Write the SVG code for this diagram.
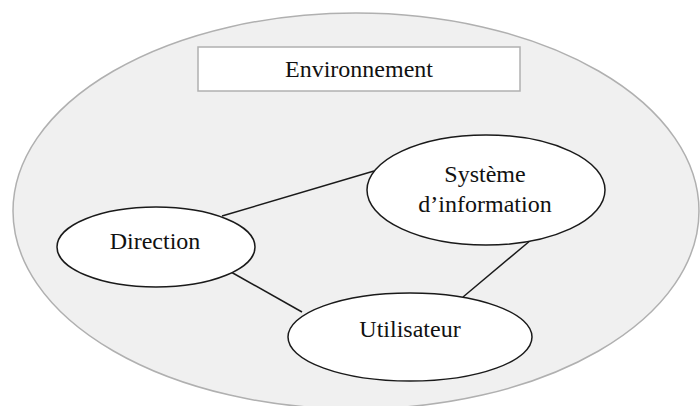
<svg xmlns="http://www.w3.org/2000/svg" width="700" height="406" viewBox="0 0 700 406">
<style>
.node{fill:#fff;stroke:#1a1a1a;stroke-width:1.5}
.lbl{font-family:'Liberation Serif','DejaVu Serif',serif;font-size:24px;fill:#111;text-anchor:middle}
.conn line{stroke:#1a1a1a;stroke-width:1.5}
</style>
<rect width="700" height="406" fill="#fff"/>
<g id="environnement-zone">
<ellipse cx="356" cy="211" rx="343" ry="198" fill="#f0f0f0" stroke="#b0b0b0" stroke-width="1.5"/>
</g>
<g id="environnement">
<rect x="198" y="47" width="322" height="44" fill="#fff" stroke="#b0b0b0" stroke-width="1.5"/>
<text class="lbl" x="359" y="77">Environnement</text>
</g>
<g id="connectors" class="conn">
<line x1="222" y1="216" x2="374" y2="171"/>
<line x1="231" y1="272" x2="302" y2="312"/>
<line x1="531" y1="240" x2="463" y2="297"/>
</g>
<g id="systeme">
<ellipse class="node" cx="486" cy="190" rx="119" ry="55"/>
<text class="lbl" x="485" y="182">Système</text>
<text class="lbl" x="485" y="212">d’information</text>
</g>
<g id="direction">
<ellipse class="node" cx="156" cy="247" rx="99" ry="40"/>
<text class="lbl" x="155" y="249">Direction</text>
</g>
<g id="utilisateur">
<ellipse class="node" cx="410" cy="337" rx="122" ry="44"/>
<text class="lbl" x="410" y="337">Utilisateur</text>
</g>
</svg>
